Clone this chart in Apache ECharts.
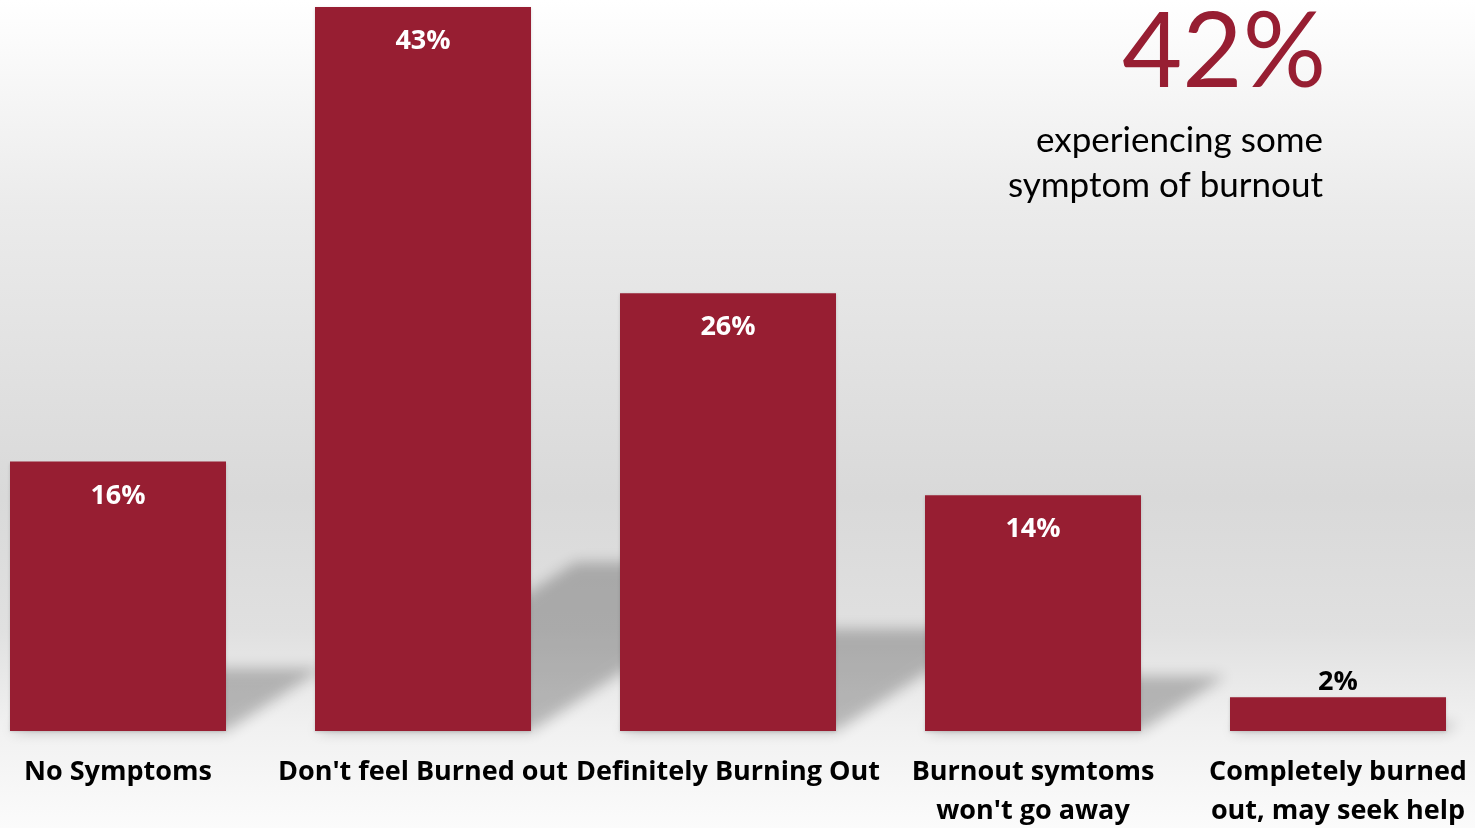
<!DOCTYPE html>
<html>
<head>
<meta charset="utf-8">
<script src="https://cdn.jsdelivr.net/npm/echarts@6/dist/echarts.min.js"></script>
<style>
  html, body { margin: 0; padding: 0; }
  #chart { width: 1475px; height: 828px; }
</style>
</head>
<body>
<div id="chart"></div>
<script>
// data
const categories = [
  'No Symptoms',
  "Don't feel Burned out",
  'Definitely Burning Out',
  "Burnout symtoms\nwon't go away",
  'Completely burned\nout, may seek help'
]
const values = [16, 43, 26, 14, 2]
const headline = '42%'
const headlineText = ['experiencing some', 'symptom of burnout']

const barColor = '#971e32'
const barWidth = 216
const boldFont = '"Open Sans", Lato, sans-serif'
const textFont = 'Lato, "Open Sans", sans-serif'

const chart = echarts.init(document.getElementById('chart'))

// shadow cast behind each bar, from bar base up to the right
const renderShadow = (params, api) => {
  const idx = api.value(0)
  const base = api.coord([idx, 0])
  const top = api.coord([idx, api.value(1)])
  const h = base[1] - top[1]
  const half = barWidth / 2
  const dx = h * 0.36
  const dy = h * 0.233
  const off = 3000
  return {
    type: 'polygon',
    shape: {
      points: [
        [base[0] - half - off, base[1]],
        [base[0] + half - off, base[1]],
        [base[0] + half + dx - off, base[1] - dy],
        [base[0] - half + dx - off, base[1] - dy]
      ]
    },
    style: {
      fill: '#000',
      shadowColor: 'rgba(0,0,0,0.24)',
      shadowBlur: 14,
      shadowOffsetX: off
    }
  }
}

const option = {
  backgroundColor: new echarts.graphic.LinearGradient(0, 0, 0, 1, [
    { offset: 0, color: '#ffffff' },
    { offset: 0.25, color: '#ebebeb' },
    { offset: 0.6, color: '#d9d9d9' },
    { offset: 0.76, color: '#e0e0e0' },
    { offset: 0.88, color: '#f1f1f1' },
    { offset: 1, color: '#fbfbfb' }
  ]),
  animation: false,
  grid: {
    left: -34.5,
    right: -15.5,
    top: 7,
    bottom: 97,
    containLabel: false,
    outerBoundsMode: 'none'
  },
  xAxis: {
    type: 'category',
    data: categories,
    axisLine: { show: false },
    axisTick: { show: false },
    axisLabel: {
      interval: 0,
      hideOverlap: false,
      margin: 22,
      color: '#000',
      fontFamily: boldFont,
      fontWeight: 'bold',
      fontSize: 27,
      lineHeight: 39
    }
  },
  yAxis: {
    type: 'value',
    min: 0,
    max: 43,
    show: false,
    splitLine: { show: false }
  },
  graphic: [
    {
      type: 'text',
      right: 149,
      top: 1,
      style: {
        text: headline,
        fill: barColor,
        font: '104px ' + textFont,
        textAlign: 'right'
      }
    },
    {
      type: 'text',
      right: 152,
      top: 118,
      style: {
        text: headlineText.join('\n'),
        fill: '#000',
        font: '35px ' + textFont,
        lineHeight: 45,
        textAlign: 'right'
      }
    }
  ],
  series: [
    {
      type: 'custom',
      renderItem: renderShadow,
      data: values.map((v, i) => [i, v]),
      z: 1,
      silent: true
    },
    {
      type: 'bar',
      data: values.map((v) => ({
        value: v,
        label: v < 5
          ? { position: 'top', color: '#000', distance: 2 }
          : { position: 'insideTop', color: '#fff', distance: 21 }
      })),
      barWidth: barWidth,
      z: 2,
      itemStyle: {
        color: barColor,
        shadowColor: 'rgba(0,0,0,0.15)',
        shadowBlur: 3,
        shadowOffsetY: 1
      },
      label: {
        show: true,
        formatter: '{c}%',
        fontFamily: boldFont,
        fontWeight: 'bold',
        fontSize: 27
      }
    }
  ]
}

chart.setOption(option)
</script>
</body>
</html>
